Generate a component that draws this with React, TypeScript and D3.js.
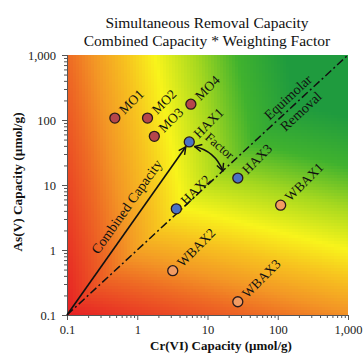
import { useEffect, useRef } from 'react'
import * as d3 from 'd3'

const W = 363
const H = 354

const SORBENTS = ['MO1', 'MO2', 'MO3', 'MO4', 'HAX1', 'HAX2', 'HAX3', 'WBAX1', 'WBAX2', 'WBAX3']
const GROUPS = ['MO', 'MO', 'MO', 'MO', 'HAX', 'HAX', 'HAX', 'WBAX', 'WBAX', 'WBAX']
const CR_CAPACITY = [0.48, 1.4, 1.75, 5.8, 5.5, 3.6, 27, 110, 3.2, 27]
const AS_CAPACITY = [107, 107, 56, 175, 46, 4.3, 12.8, 4.9, 0.48, 0.16]

const MAJOR_TICKS = [0.1, 1, 10, 100, 1000]
const MINOR_TICKS = [0.1, 1, 10, 100].flatMap((d) => [2, 3, 4, 5, 6, 7, 8, 9].map((k) => +(d * k).toPrecision(2)))

const GROUP_FILL = { MO: '#b5464b', HAX: '#4a72c4', WBAX: '#f29c62' }

// colour ramp of the "combined capacity * weighting factor" score
const SCORE_STOPS = [0, 1.2, 1.8, 2.6, 3.3, 4.3, 5.3, 6.5]
const SCORE_COLORS = ['#e61f24', '#ee6b24', '#f39625', '#f7c41f', '#f8f41b', '#a6d81f', '#40b22e', '#1f9b3e']

const EQUIMOLAR_POINT = 16.5 // where the weighting-factor arrow lands on y = x
const SERIF = '"Liberation Serif", "Times New Roman", serif'

export default function App() {
  const svgRef = useRef(null)

  useEffect(() => {
    const svg = d3.select(svgRef.current)
    svg.selectAll('*').remove()

    const x = d3.scaleLog().domain([0.1, 1000]).range([67, 348])
    const y = d3.scaleLog().domain([0.1, 1000]).range([315, 55])
    const color = d3.scaleLinear().domain(SCORE_STOPS).range(SCORE_COLORS).clamp(true)

    const defs = svg.append('defs')
    defs.append('marker')
      .attr('id', 'chev').attr('viewBox', '0 0 10 10')
      .attr('refX', 9).attr('refY', 5)
      .attr('markerWidth', 9).attr('markerHeight', 9)
      .attr('markerUnits', 'userSpaceOnUse')
      .attr('orient', 'auto-start-reverse')
      .append('path').attr('d', 'M1,1 L9,5 L1,9')
      .attr('fill', 'none').attr('stroke', '#111').attr('stroke-width', 1.6)

    // background score field
    const step = 3
    const cells = []
    for (let px = 67; px < 348; px += step) {
      for (let py = 55; py < 315; py += step) {
        const u = Math.log10(x.invert(px + step / 2)) + 1
        const v = Math.log10(y.invert(py + step / 2)) + 1
        const k = v > u ? 0.71 : 0.57
        cells.push({ px, py, s: u + v - k * Math.abs(u - v) })
      }
    }
    svg.append('g').attr('shape-rendering', 'crispEdges')
      .selectAll('rect').data(cells).join('rect')
      .attr('x', (d) => d.px).attr('y', (d) => d.py)
      .attr('width', (d) => Math.min(step + 0.5, 348 - d.px))
      .attr('height', (d) => Math.min(step + 0.5, 315 - d.py))
      .attr('fill', (d) => color(d.s))

    // axes
    const styleAxis = (g) => {
      g.select('.domain').attr('stroke', '#555')
      g.selectAll('.tick line').attr('stroke', '#555')
      g.selectAll('text').attr('font-family', SERIF).attr('font-size', 12.5).attr('fill', '#222')
    }
    svg.append('g').attr('transform', 'translate(0,315)')
      .call(d3.axisBottom(x).tickValues(MINOR_TICKS).tickSize(3).tickFormat(() => ''))
      .call(styleAxis)
    svg.append('g').attr('transform', 'translate(0,315)')
      .call(d3.axisBottom(x).tickValues(MAJOR_TICKS).tickSize(5).tickPadding(5).tickFormat(d3.format(',')))
      .call(styleAxis)
    svg.append('g').attr('transform', 'translate(67,0)')
      .call(d3.axisLeft(y).tickValues(MINOR_TICKS).tickSize(3).tickFormat(() => ''))
      .call(styleAxis)
    svg.append('g').attr('transform', 'translate(67,0)')
      .call(d3.axisLeft(y).tickValues(MAJOR_TICKS).tickSize(5).tickPadding(6).tickFormat(d3.format(',')))
      .call(styleAxis)

    // equimolar removal line (y = x)
    const o = [x(0.1), y(0.1)]
    const e = [x(1000), y(1000)]
    svg.append('line')
      .attr('x1', o[0]).attr('y1', o[1]).attr('x2', e[0]).attr('y2', e[1])
      .attr('stroke', '#111').attr('stroke-width', 1.5)
      .attr('stroke-dasharray', '8,3,2,3')
    const eqAng = Math.atan2(e[1] - o[1], e[0] - o[0])
    const eqLen = 310
    const eqC = [o[0] + eqLen * Math.cos(eqAng), o[1] + eqLen * Math.sin(eqAng)]
    const eqLabel = svg.append('g')
      .attr('transform', `translate(${eqC[0]},${eqC[1]}) rotate(${(eqAng * 180) / Math.PI})`)
      .attr('font-family', SERIF).attr('font-size', 14).attr('fill', '#111')
      .attr('text-anchor', 'middle')
    eqLabel.append('text').attr('y', -5).text('Equimolar')
    eqLabel.append('text').attr('y', 14).text('Removal')

    // combined capacity arrow to HAX1
    const hi = SORBENTS.indexOf('HAX1')
    const h = [x(CR_CAPACITY[hi]), y(AS_CAPACITY[hi])]
    const ccAng = Math.atan2(h[1] - o[1], h[0] - o[0])
    const ccLen = Math.hypot(h[0] - o[0], h[1] - o[1])
    svg.append('line')
      .attr('x1', o[0]).attr('y1', o[1])
      .attr('x2', h[0] - 6 * Math.cos(ccAng)).attr('y2', h[1] - 6 * Math.sin(ccAng))
      .attr('stroke', '#111').attr('stroke-width', 1.6)
      .attr('marker-end', 'url(#chev)')
    const ccC = [o[0] + ccLen * 0.58 * Math.cos(ccAng), o[1] + ccLen * 0.58 * Math.sin(ccAng)]
    svg.append('text')
      .attr('transform', `translate(${ccC[0]},${ccC[1]}) rotate(${(ccAng * 180) / Math.PI})`)
      .attr('y', -9).attr('text-anchor', 'middle')
      .attr('font-family', SERIF).attr('font-size', 14).attr('fill', '#111')
      .text('Combined Capacity')

    // weighting factor arc
    const fe = [x(EQUIMOLAR_POINT), y(EQUIMOLAR_POINT)]
    const chAng = Math.atan2(fe[1] - h[1], fe[0] - h[0])
    const fs = [h[0] + 7 * Math.cos(chAng), h[1] + 7 * Math.sin(chAng)]
    const mid = [(fs[0] + fe[0]) / 2, (fs[1] + fe[1]) / 2]
    const nrm = [Math.sin(chAng), -Math.cos(chAng)]
    const ctl = [mid[0] + 10 * nrm[0], mid[1] + 10 * nrm[1]]
    svg.append('path')
      .attr('d', `M${fs[0]},${fs[1]} Q${ctl[0]},${ctl[1]} ${fe[0]},${fe[1]}`)
      .attr('fill', 'none').attr('stroke', '#111').attr('stroke-width', 1.6)
      .attr('marker-start', 'url(#chev)').attr('marker-end', 'url(#chev)')
    svg.append('text')
      .attr('transform', `translate(${mid[0] + 17 * nrm[0]},${mid[1] + 17 * nrm[1]}) rotate(${(chAng * 180) / Math.PI})`)
      .attr('dy', '0.35em').attr('text-anchor', 'middle')
      .attr('font-family', SERIF).attr('font-size', 13).attr('fill', '#111')
      .text('Factor')

    // sorbent points + labels
    const pts = SORBENTS.map((name, i) => ({ name, group: GROUPS[i], cr: CR_CAPACITY[i], as: AS_CAPACITY[i] }))
    svg.append('g').selectAll('circle').data(pts).join('circle')
      .attr('cx', (d) => x(d.cr)).attr('cy', (d) => y(d.as)).attr('r', 5)
      .attr('fill', (d) => GROUP_FILL[d.group])
      .attr('stroke', '#2a1a1a').attr('stroke-width', 1.3)
    svg.append('g').selectAll('text').data(pts).join('text')
      .attr('transform', (d) => `translate(${x(d.cr)},${y(d.as)}) rotate(-45)`)
      .attr('x', 9).attr('dy', '0.35em')
      .attr('font-family', SERIF).attr('font-size', 13.5).attr('fill', '#111')
      .text((d) => d.name)

    // titles
    const title = svg.append('g').attr('font-family', SERIF).attr('font-size', 15.5)
      .attr('fill', '#111').attr('text-anchor', 'middle')
    title.append('text').attr('x', 207).attr('y', 28).text('Simultaneous Removal Capacity')
    title.append('text').attr('x', 207).attr('y', 46).text('Combined Capacity * Weighting Factor')

    svg.append('text')
      .attr('x', 221).attr('y', 350).attr('text-anchor', 'middle')
      .attr('font-family', SERIF).attr('font-size', 13).attr('font-weight', 'bold').attr('fill', '#111')
      .text('Cr(VI) Capacity (µmol/g)')
    svg.append('text')
      .attr('transform', 'translate(22,182) rotate(-90)').attr('text-anchor', 'middle')
      .attr('font-family', SERIF).attr('font-size', 13.3).attr('font-weight', 'bold').attr('fill', '#111')
      .text('As(V) Capacity (µmol/g)')
  }, [])

  return (
    <svg
      ref={svgRef}
      width={W}
      height={H}
      viewBox={`0 0 ${W} ${H}`}
      style={{ position: 'absolute', left: 0, top: 0, background: '#fff' }}
    />
  )
}
